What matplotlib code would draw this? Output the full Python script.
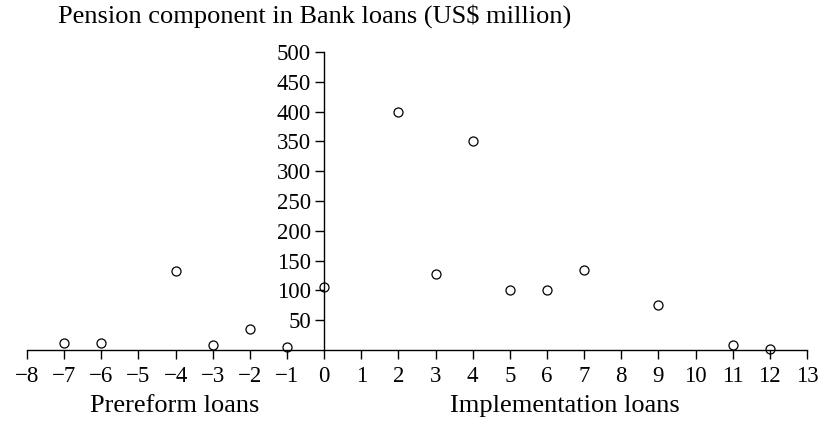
import matplotlib.pyplot as plt
from matplotlib.ticker import FixedLocator

# years relative to reform and pension component (US$ million)
years = [-7, -6, -4, -3, -2, -1, 0, 2, 3, 4, 5, 6, 7, 9, 11, 12]
amounts = [12, 12, 132, 8, 36, 5, 106, 400, 127, 350, 100, 100, 135, 76, 9, 2]

x_ticks = list(range(-8, 14))
y_ticks = list(range(50, 501, 50))


def main():
    plt.rcParams["font.family"] = ["Liberation Serif", "DejaVu Serif"]
    plt.rcParams["font.size"] = 16

    fig = plt.figure(figsize=(8.22, 4.22), dpi=100)
    ax = fig.add_axes([27 / 822, 72 / 422, 780 / 822, 298 / 422])

    ax.plot(years, amounts, "o", markersize=6.5, markerfacecolor="none",
            markeredgecolor="black", markeredgewidth=0.9, clip_on=False)

    ax.set_xlim(-8, 13)
    ax.set_ylim(0, 500)

    ax.spines["left"].set_position(("data", 0))
    ax.spines["top"].set_visible(False)
    ax.spines["right"].set_visible(False)
    for s in ("left", "bottom"):
        ax.spines[s].set_linewidth(1.0)

    ax.xaxis.set_major_locator(FixedLocator(x_ticks))
    ax.yaxis.set_major_locator(FixedLocator(y_ticks))
    ax.set_xticklabels([str(t).replace("-", "\u2212") for t in x_ticks])
    ax.tick_params(axis="both", direction="out", length=6.5, width=1.0,
                   labelsize=16.5)
    ax.tick_params(axis="x", pad=5)
    ax.tick_params(axis="y", pad=3)

    fig.text(315 / 822, 1 - 16 / 422,
             "Pension component in Bank loans (US$ million)",
             ha="center", va="center", fontsize=19)
    fig.text(175 / 822, 1 - 406 / 422, "Prereform loans",
             ha="center", va="center", fontsize=19)
    fig.text(565 / 822, 1 - 406 / 422, "Implementation loans",
             ha="center", va="center", fontsize=19)

    fig.savefig("out.png", dpi=100)


if __name__ == "__main__":
    main()
